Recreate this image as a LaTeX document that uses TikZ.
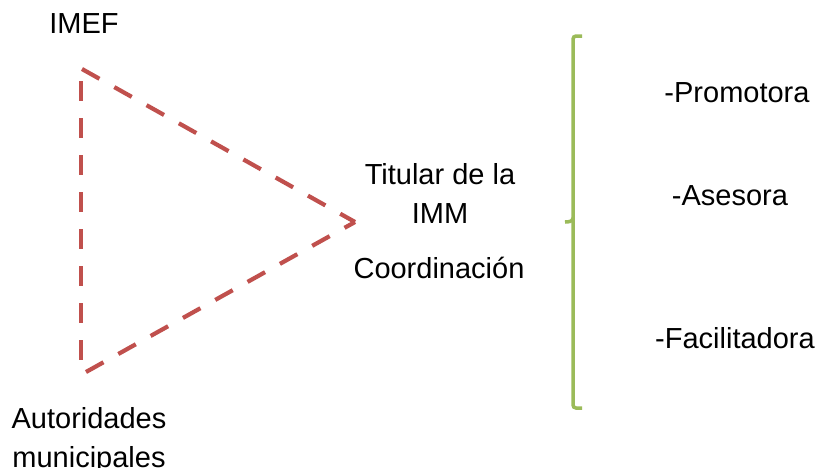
\documentclass[tikz,border=0pt]{standalone}
\usepackage{fontspec}
\setmainfont{Liberation Sans}
\definecolor{tri}{HTML}{C0504D}
\definecolor{brk}{HTML}{9BBB59}
\begin{document}
\begin{tikzpicture}[x=1pt,y=-1pt,
  lbl/.style={inner sep=0pt,anchor=base,align=center,font=\fontsize{29}{39}\selectfont},
  tridash/.style={draw=tri,line width=4.2pt,dash pattern=on 20pt off 17pt},
  bracket/.style={draw=brk,line width=3.5pt,rounded corners=3pt}]
\useasboundingbox (0,0) rectangle (818,467);
% labels
\node[lbl] (imef) at (84,33) {IMEF};
\node[lbl] (tit) at (440,223) {Titular de la\\IMM};
\node[lbl] (coord) at (439,278) {Coordinación};
\node[lbl] (aut) at (89,467) {Autoridades\\municipales};
\node[lbl] (prom) at (737,102) {-Promotora};
\node[lbl] (ases) at (730,205) {-Asesora};
\node[lbl] (faci) at (735,348) {-Facilitadora};
% triangle
\coordinate (A) at (82,69);
\coordinate (B) at (355,222);
\coordinate (C) at (86,372);
\coordinate (A2) at (81,81);
\coordinate (C2) at (81,366);
\draw[tridash] (A) -- (B);
\draw[tridash] (C) -- (B);
\draw[tridash] (A2) -- (C2);
% bracket
\coordinate (bt) at (582,36);
\coordinate (bb) at (582,408);
\coordinate (bm) at (565,222);
\draw[bracket] (bt) -- (573,36) -- (573,408) -- (bb);
\draw[bracket] (573,218) to[out=-90,in=0] (bm);
\end{tikzpicture}
\end{document}
